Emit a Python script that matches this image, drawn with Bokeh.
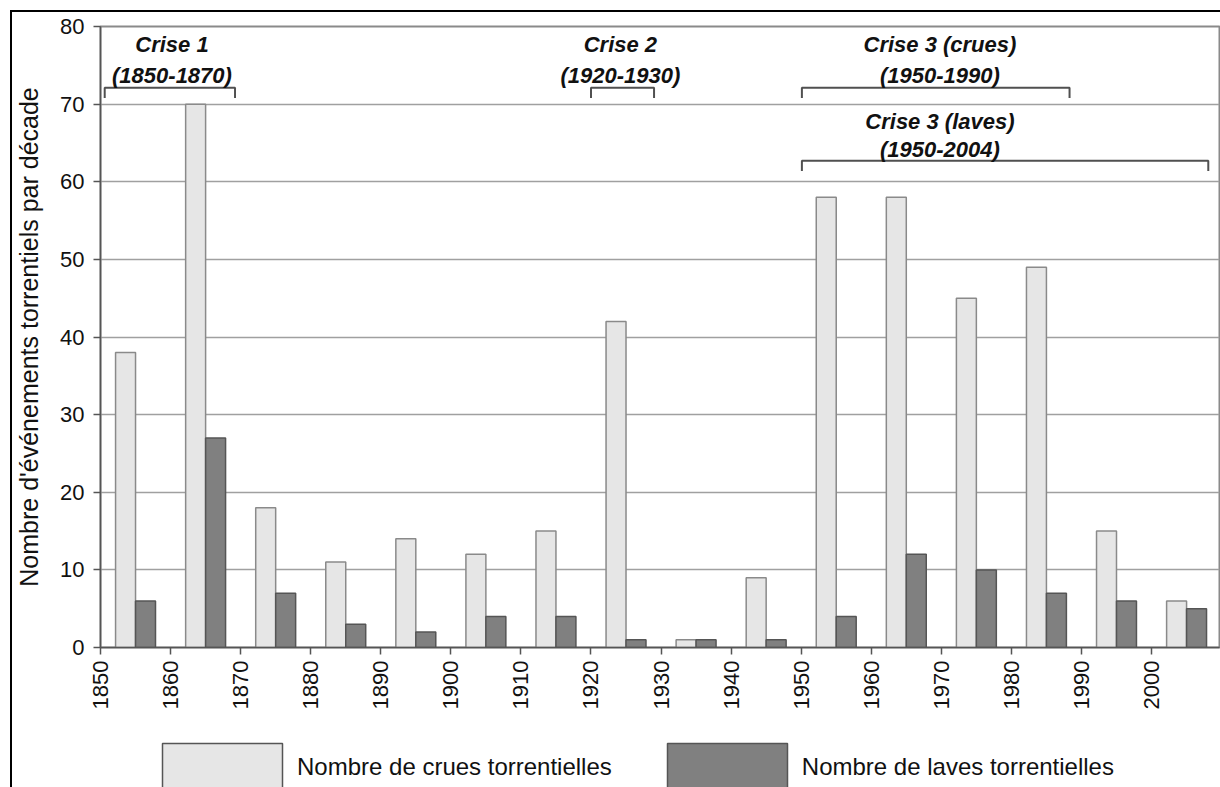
import numpy as np
from math import pi
from bokeh.plotting import figure
from bokeh.layouts import column
from bokeh.models import FixedTicker, Legend, LegendItem, Range1d, ColumnDataSource
from bokeh.core.properties import value
from bokeh.embed import file_html
from bokeh.resources import INLINE

# ---- data ----
decades = [1850, 1860, 1870, 1880, 1890, 1900, 1910, 1920, 1930, 1940,
           1950, 1960, 1970, 1980, 1990, 2000]
crues = [38, 70, 18, 11, 14, 12, 15, 42, 1, 9, 58, 58, 45, 49, 15, 6]
laves = [6, 27, 7, 3, 2, 4, 4, 1, 1, 1, 4, 12, 10, 7, 6, 5]
x_ticks = [1850, 1860, 1870, 1880, 1890, 1900, 1910, 1920, 1930, 1940,
           1950, 1960, 1970, 1980, 1990, 2000]
y_ticks = [0, 10, 20, 30, 40, 50, 60, 70, 80]
series_labels = ["Nombre de crues torrentielles", "Nombre de laves torrentielles"]

crise_text = ["Crise 1\n(1850-1870)", "Crise 2\n(1920-1930)",
              "Crise 3 (crues)\n(1950-1990)", "Crise 3 (laves)\n(1950-2004)"]
crise_text_x = [1860.2, 1924.2, 1969.8, 1969.8]
crise_text_y = [75.7, 75.7, 75.7, 66.0]
bracket_x0 = [1850.6, 1920.0, 1950.1, 1950.1]
bracket_x1 = [1869.2, 1929.0, 1988.3, 2008.1]
bracket_y = [72.1, 72.1, 72.1, 62.7]
bracket_drop = 1.3

FONT = "Liberation Sans"
LIGHT_FILL, LIGHT_LINE = "#e6e6e6", "#8a8a8a"
DARK_FILL, DARK_LINE = "#808080", "#555555"

p = figure(width=1208, height=718, output_backend="svg", toolbar_location=None,
           x_range=Range1d(1850, 2009.7), y_range=Range1d(0, 80),
           min_border_left=86, min_border_top=14, min_border_right=1,
           min_border_bottom=83)

dec = np.array(decades, dtype=float)
bw = 2.85
src = ColumnDataSource(dict(xc=dec + 5 - bw / 2, xl=dec + 5 + bw / 2,
                            crues=crues, laves=laves))
r1 = p.vbar(x="xc", top="crues", width=bw, source=src, fill_color=LIGHT_FILL,
            line_color=LIGHT_LINE, line_width=1.5)
r2 = p.vbar(x="xl", top="laves", width=bw, source=src, fill_color=DARK_FILL,
            line_color=DARK_LINE, line_width=1.5)

# brackets
xs = [[a, a, b, b] for a, b in zip(bracket_x0, bracket_x1)]
ys = [[y - bracket_drop, y, y, y - bracket_drop] for y in bracket_y]
p.multi_line(xs=xs, ys=ys, line_color="#505050", line_width=2)

text_style = dict(text_align="center", text_baseline="middle", text_font=value(FONT),
                  text_font_size="22px", text_font_style="bold italic",
                  text_color="#111111")
p.text(x=crise_text_x[:3], y=crise_text_y[:3], text=crise_text[:3],
       text_line_height=1.27, **text_style)
p.text(x=crise_text_x[3:], y=crise_text_y[3:], text=crise_text[3:],
       text_line_height=1.12, **text_style)

# axes
p.xaxis.ticker = FixedTicker(ticks=x_ticks)
p.yaxis.ticker = FixedTicker(ticks=y_ticks)
p.xaxis.major_label_orientation = pi / 2
for ax in (p.xaxis, p.yaxis):
    ax.major_label_text_font = FONT
    ax.major_label_text_font_size = "22px"
    ax.major_label_text_color = "#111111"
    ax.axis_line_color = "#555555"
    ax.axis_line_width = 1.5
    ax.major_tick_line_color = "#555555"
    ax.major_tick_line_width = 1.5
    ax.major_tick_out = 7
    ax.major_tick_in = 0
    ax.minor_tick_line_color = None
    ax.major_label_standoff = 6
p.yaxis.major_label_standoff = 9
p.yaxis.axis_label = "Nombre d'événements torrentiels par décade"
p.yaxis.axis_label_text_font = FONT
p.yaxis.axis_label_text_font_size = "25px"
p.yaxis.axis_label_text_font_style = "normal"
p.yaxis.axis_label_text_color = "#111111"
p.yaxis.axis_label_standoff = 14

p.xgrid.grid_line_color = None
p.ygrid.grid_line_color = "#a0a0a0"
p.ygrid.grid_line_width = 1.5
p.outline_line_color = "#8a8a8a"
p.outline_line_width = 2

# legend strip (its frame is aligned with the main plot's frame by the column)
p2 = figure(width=1208, height=57, output_backend="svg", toolbar_location=None,
            x_range=Range1d(0, 1), y_range=Range1d(0, 1), min_border=0,
            x_axis_location=None, y_axis_location=None)
p2.xgrid.grid_line_color = None
p2.ygrid.grid_line_color = None
p2.outline_line_color = None
# swatch-only renderers: NaN positions, so nothing is drawn in the strip itself
nan = [float("nan")]
d1 = p2.vbar(x=nan, top=nan, width=0.1, fill_color=LIGHT_FILL,
             line_color="#555555", line_width=1.5)
d2 = p2.vbar(x=nan, top=nan, width=0.1, fill_color=DARK_FILL,
             line_color="#555555", line_width=1.5)
legend = Legend(items=[LegendItem(label=series_labels[0], renderers=[d1]),
                       LegendItem(label=series_labels[1], renderers=[d2])],
                orientation="horizontal", location=(47, -10),
                glyph_width=150, glyph_height=60, label_standoff=0, spacing=40,
                margin=0, padding=0, border_line_color=None,
                background_fill_alpha=0,
                label_text_font=FONT, label_text_font_size="24px",
                label_text_color="#111111")
p2.add_layout(legend)

layout = column(p, p2, spacing=0)
layout.styles = {"border-top": "2px solid black", "border-left": "2px solid black",
                 "margin-left": "10px", "margin-top": "10px"}

open("out.html", "w").write(file_html(layout, INLINE))
